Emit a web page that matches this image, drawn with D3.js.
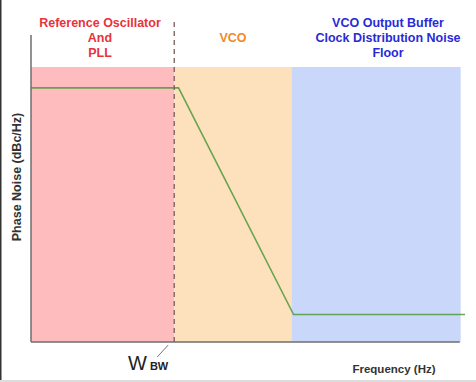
<!DOCTYPE html>
<html><head><meta charset="utf-8">
<script src="https://cdn.jsdelivr.net/npm/d3@7"></script>
<style>html,body{margin:0;padding:0;background:#fff;}svg{display:block;}</style>
</head><body>
<script>
// Data
const regions = ["Reference Oscillator\nAnd\nPLL", "VCO", "VCO Output Buffer\nClock Distribution Noise\nFloor"];
const regionStart = [0, 33, 60];
const regionEnd = [33, 60, 99];
const regionFill = ["#ffbcbf", "#fde1bd", "#c9d7fb"];
const regionText = ["#e8323c", "#f08a2a", "#2a2ad6"];
const noiseFreq = [0, 34, 60.5, 100];
const noiseLevel = [-77.6, -77.6, -160, -160];
const loopBW = 33;
const yLabel = "Phase Noise (dBc/Hz)";
const xLabel = "Frequency (Hz)";

const W = 476, H = 382;
const svg = d3.select("body").append("svg").attr("width", W).attr("height", H);
const x = d3.scaleLinear().domain([0, 100]).range([31, 465]);
const y = d3.scaleLinear().domain([-170, -70]).range([342, 67]);

// left border
svg.append("rect").attr("x",0).attr("y",0).attr("width",1.5).attr("height",H).attr("fill","#333");

// region fills
svg.selectAll("rect.reg").data(regions).join("rect").attr("class","reg")
  .attr("x", (d,i)=>x(regionStart[i])).attr("width",(d,i)=>x(regionEnd[i])-x(regionStart[i]))
  .attr("y", y(-70)).attr("height", y(-170)-y(-70))
  .attr("fill",(d,i)=>regionFill[i]);

// region titles
const fontF = "Arial, 'Liberation Sans', sans-serif";
regions.forEach((r,i)=>{
  const lines = r.split("\n");
  const cx = (i===1)? 233 : (i===0 ? 100 : 388);
  const t = svg.append("text").attr("text-anchor","middle").attr("font-family",fontF)
    .attr("font-weight","bold").attr("font-size",12.5).attr("fill",regionText[i]);
  if (lines.length===1) {
    t.append("tspan").attr("x",cx).attr("y",42).text(lines[0]);
  } else {
    lines.forEach((l,j)=>t.append("tspan").attr("x",cx).attr("y",27+j*15).text(l));
  }
});

// noise curve
const line = d3.line().x(d=>x(d[0])).y(d=>y(d[1]));
svg.append("path").datum(noiseFreq.map((f,i)=>[f,noiseLevel[i]]))
  .attr("d", line).attr("fill","none").attr("stroke","#4e9a3c").attr("stroke-opacity",0.85).attr("stroke-width",1.6);

// axes
svg.append("line").attr("x1",x(0)).attr("x2",x(0)).attr("y1",35).attr("y2",y(-170))
  .attr("stroke","#6e6e6e").attr("stroke-width",1.5);
svg.append("line").attr("x1",x(0)).attr("x2",x(98.8)).attr("y1",y(-170)).attr("y2",y(-170))
  .attr("stroke","#6e6e6e").attr("stroke-width",1.5);

// loop bandwidth dashed line
svg.append("line").attr("x1",x(loopBW)).attr("x2",x(loopBW)).attr("y1",22).attr("y2",y(-170))
  .attr("stroke","#7a5a5a").attr("stroke-width",1.3).attr("stroke-dasharray","5,4");
svg.append("line").attr("x1",x(loopBW)-6).attr("y1",345).attr("x2",x(loopBW)-17).attr("y2",357)
  .attr("stroke","#777").attr("stroke-width",1);

// W_BW label
const wt = svg.append("text").attr("x",128).attr("y",370).attr("font-family",fontF).attr("fill","#222");
wt.append("tspan").attr("font-size",20).text("W");
wt.append("tspan").attr("font-size",11).attr("font-weight","bold").attr("dx",3).text("BW");

// axis labels
svg.append("text").attr("transform","translate(21,177) rotate(-90)").attr("text-anchor","middle")
  .attr("font-family",fontF).attr("font-weight","bold").attr("font-size",12.5).attr("fill","#333").text(yLabel);
svg.append("text").attr("x",394).attr("y",373).attr("text-anchor","middle")
  .attr("font-family",fontF).attr("font-weight","bold").attr("font-size",11.5).attr("fill","#333").text(xLabel);

// bottom border
svg.append("rect").attr("x",0).attr("y",380).attr("width",W).attr("height",2).attr("fill","#ddd");
</script>
</body></html>
